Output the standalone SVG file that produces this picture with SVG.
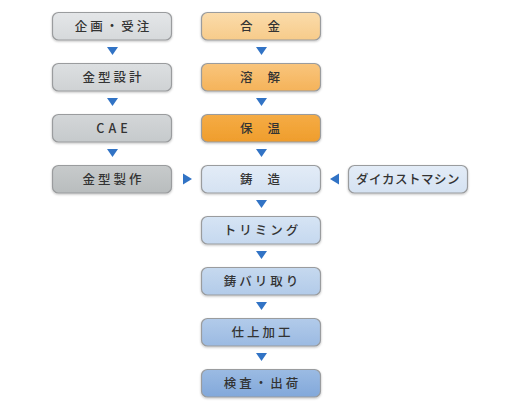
<svg xmlns="http://www.w3.org/2000/svg" width="520" height="410" viewBox="0 0 520 410">
<defs>
<linearGradient id="g1" x1="0" y1="0" x2="0" y2="1"><stop offset="0" stop-color="#e4e6e8"/><stop offset="1" stop-color="#d6d9db"/></linearGradient>
<linearGradient id="g2" x1="0" y1="0" x2="0" y2="1"><stop offset="0" stop-color="#dcdfe1"/><stop offset="1" stop-color="#cfd2d4"/></linearGradient>
<linearGradient id="g3" x1="0" y1="0" x2="0" y2="1"><stop offset="0" stop-color="#d3d6d8"/><stop offset="1" stop-color="#c6cacc"/></linearGradient>
<linearGradient id="g4" x1="0" y1="0" x2="0" y2="1"><stop offset="0" stop-color="#c7cacb"/><stop offset="1" stop-color="#b9bdbe"/></linearGradient>
<linearGradient id="o1" x1="0" y1="0" x2="0" y2="1"><stop offset="0" stop-color="#fbdcab"/><stop offset="1" stop-color="#f7cb8a"/></linearGradient>
<linearGradient id="o2" x1="0" y1="0" x2="0" y2="1"><stop offset="0" stop-color="#f9c57c"/><stop offset="1" stop-color="#f5b35a"/></linearGradient>
<linearGradient id="o3" x1="0" y1="0" x2="0" y2="1"><stop offset="0" stop-color="#f5ac45"/><stop offset="1" stop-color="#ef9d2c"/></linearGradient>
<linearGradient id="b1" x1="0" y1="0" x2="0" y2="1"><stop offset="0" stop-color="#e3ecf7"/><stop offset="1" stop-color="#d5e2f2"/></linearGradient>
<linearGradient id="b2" x1="0" y1="0" x2="0" y2="1"><stop offset="0" stop-color="#d6e4f4"/><stop offset="1" stop-color="#c5d8ef"/></linearGradient>
<linearGradient id="b3" x1="0" y1="0" x2="0" y2="1"><stop offset="0" stop-color="#c6d9ef"/><stop offset="1" stop-color="#b2cbe9"/></linearGradient>
<linearGradient id="b4" x1="0" y1="0" x2="0" y2="1"><stop offset="0" stop-color="#b2cbea"/><stop offset="1" stop-color="#9bbae2"/></linearGradient>
<linearGradient id="b5" x1="0" y1="0" x2="0" y2="1"><stop offset="0" stop-color="#9bbbe3"/><stop offset="1" stop-color="#82a8da"/></linearGradient>
<filter id="sh" x="-10%" y="-20%" width="120%" height="150%"><feDropShadow dx="0" dy="1" stdDeviation="0.8" flood-color="#000" flood-opacity="0.25"/></filter>
</defs>
<style>
rect.box{stroke:#9a9c9e;stroke-width:1.2;filter:url(#sh)}
text{font-family:"Noto Sans CJK JP","Noto Sans",sans-serif;font-size:12.5px;font-weight:500;fill:#333;text-anchor:middle;letter-spacing:3px}
.arr{fill:#3173c5}
</style>
<rect width="520" height="410" fill="#fff"/>
<g id="n1"><rect class="box" x="52.5" y="12.5" width="119" height="27.5" rx="6" fill="url(#g1)"/><text x="113.5" y="31">企画・受注</text></g>
<g id="n2"><rect class="box" x="52.5" y="63.5" width="119" height="27.5" rx="6" fill="url(#g2)"/><text x="113.5" y="82">金型設計</text></g>
<g id="n3"><rect class="box" x="52.5" y="114.5" width="119" height="27.5" rx="6" fill="url(#g3)"/><text x="114" y="133" style="letter-spacing:4px">CAE</text></g>
<g id="n4"><rect class="box" x="52.5" y="165.5" width="119" height="27.5" rx="6" fill="url(#g4)"/><text x="113.5" y="184">金型製作</text></g>
<g id="m1"><rect class="box" x="201.5" y="12.5" width="119" height="27.5" rx="6" fill="url(#o1)"/><text x="267.5" y="31" style="letter-spacing:15px">合金</text></g>
<g id="m2"><rect class="box" x="201.5" y="63.5" width="119" height="27.5" rx="6" fill="url(#o2)"/><text x="267.5" y="82" style="letter-spacing:15px">溶解</text></g>
<g id="m3"><rect class="box" x="201.5" y="114.5" width="119" height="27.5" rx="6" fill="url(#o3)"/><text x="267.5" y="133" style="letter-spacing:15px">保温</text></g>
<g id="m4"><rect class="box" x="201.5" y="165.5" width="119" height="27.5" rx="6" fill="url(#b1)"/><text x="267.5" y="184" style="letter-spacing:15px">鋳造</text></g>
<g id="m5"><rect class="box" x="201.5" y="216.5" width="119" height="27.5" rx="6" fill="url(#b2)"/><text x="262.5" y="235">トリミング</text></g>
<g id="m6"><rect class="box" x="201.5" y="267.5" width="119" height="27.5" rx="6" fill="url(#b3)"/><text x="262.5" y="286">鋳バリ取り</text></g>
<g id="m7"><rect class="box" x="201.5" y="318.5" width="119" height="27.5" rx="6" fill="url(#b4)"/><text x="262.5" y="337">仕上加工</text></g>
<g id="m8"><rect class="box" x="201.5" y="369.5" width="119" height="27.5" rx="6" fill="url(#b5)"/><text x="262.5" y="388">検査・出荷</text></g>
<g id="side"><rect class="box" x="348.5" y="165.5" width="119" height="27.5" rx="6" fill="url(#b1)"/><text x="408" y="184" style="letter-spacing:0.5px">ダイカストマシン</text></g>
<g id="connectors">
<path class="arr" d="M107 47h11l-5.5 8z"/>
<path class="arr" d="M107 98h11l-5.5 8z"/>
<path class="arr" d="M107 149h11l-5.5 8z"/>
<path class="arr" d="M256 47h11l-5.5 8z"/>
<path class="arr" d="M256 98h11l-5.5 8z"/>
<path class="arr" d="M256 149h11l-5.5 8z"/>
<path class="arr" d="M256 200h11l-5.5 8z"/>
<path class="arr" d="M256 251h11l-5.5 8z"/>
<path class="arr" d="M256 302h11l-5.5 8z"/>
<path class="arr" d="M256 353h11l-5.5 8z"/>
<path class="arr" d="M183 173.5v11l9-5.5z"/>
<path class="arr" d="M339 173.5v11l-9-5.5z"/>
</g>
</svg>
